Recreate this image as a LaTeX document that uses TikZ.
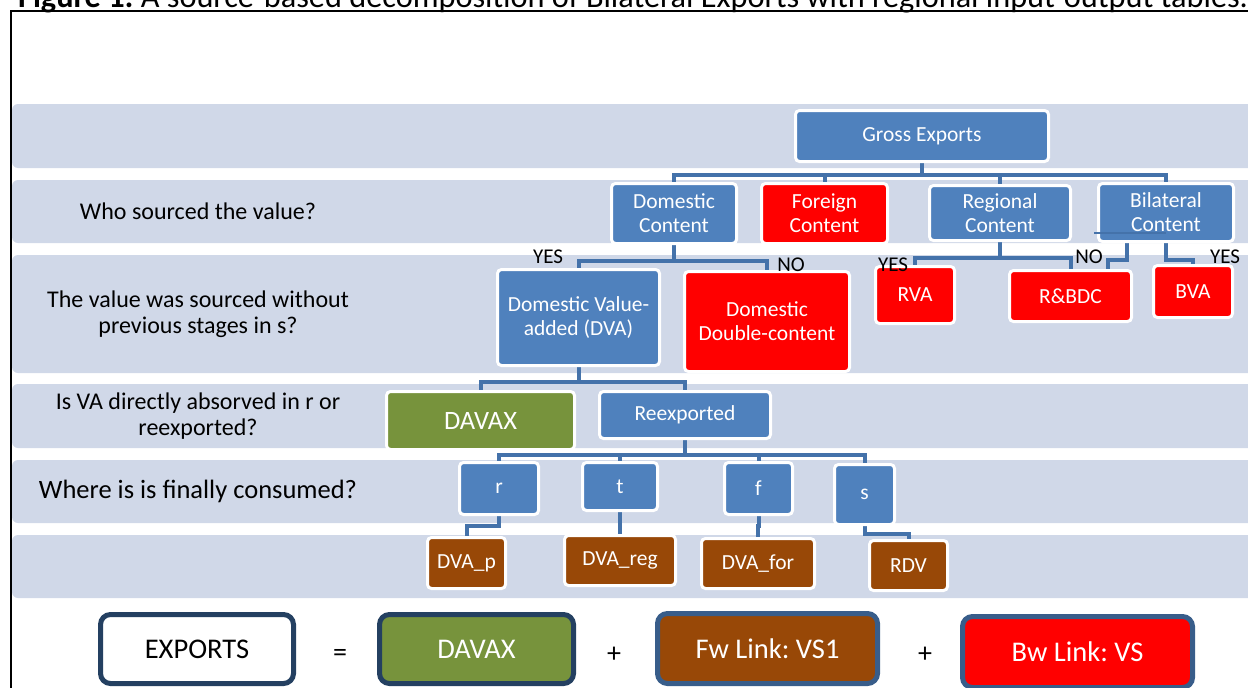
\documentclass[tikz,border=0pt]{standalone}
\usepackage{fontspec}
\setmainfont{Carlito}
\frenchspacing
\definecolor{dec_band}{RGB}{208,216,232}
\definecolor{dec_blue}{RGB}{79,129,189}
\definecolor{dec_link}{RGB}{68,114,170}
\definecolor{dec_red}{RGB}{255,0,0}
\definecolor{dec_green}{RGB}{119,147,60}
\definecolor{dec_brown}{RGB}{152,72,7}
\definecolor{dec_navy}{RGB}{36,64,97}
\definecolor{dec_steel}{RGB}{56,93,138}
\usetikzlibrary{calc}
\pgfdeclarelayer{bandlayer}
\pgfdeclarelayer{linklayer}
\pgfsetlayers{bandlayer,linklayer,main}

\begin{document}
\begin{tikzpicture}[x=1pt, y=-1pt,
        box/.style={draw=white, line width=3pt, rounded corners=4pt, align=center,
                    text=white, inner sep=0pt, font=\fontsize{21.5}{24}\selectfont},
        eqbox/.style={line width=5pt, rounded corners=10pt, inner sep=0pt,
                      font=\fontsize{28.5}{32}\selectfont},
        band/.style={fill=dec_band, rounded corners=6pt},
        link/.style={draw=dec_link, line width=4pt},
        question/.style={align=center, font=\fontsize{24}{26}\selectfont},
        answer/.style={inner sep=0pt, font=\fontsize{21}{22}\selectfont},
        sign/.style={font=\fontsize{28}{30}\selectfont}]
        \useasboundingbox (0,0) rectangle (1248,688);
        % Bands and frame
        \begin{pgfonlayer}{bandlayer}
          \foreach \ya/\yb in {104/168, 180/243, 255/373, 384/448, 460/523, 535/598}
            \fill[band] (12,\ya) rectangle (1256,\yb);
        \end{pgfonlayer}
        \draw[line width=1.5pt] (11,700) -- (11,11) -- (1260,11);
        \node[anchor=base west, inner sep=0pt, font=\fontsize{32.3}{35}\selectfont] (title)
          at (18,7) {\textbf{Figure 1:} A source-based decomposition of Bilateral Exports with regional input-output tables.};
        % Questions
        \node[question] (qwho) at (198,211) {Who sourced the value?};
        \node[question] (qprev) at (198,314.5) {The value was sourced without\\previous stages in s?};
        \node[question] (qabs) at (198,416.5) {Is VA directly absorved in r or\\reexported?};
        \node[question, font=\fontsize{26.5}{28}\selectfont] (qwhere) at (198,491)
          {Where is is finally consumed?};
        % Source level
        \node[box, fill=dec_blue, minimum width=253pt, minimum height=51pt] (gross)
          at (922,136) {Gross Exports};
        \node[box, fill=dec_blue, minimum width=125pt, minimum height=60pt] (dom)
          at (674,213.5) {Domestic\\Content};
        \node[box, fill=dec_red, minimum width=126pt, minimum height=60pt] (fore)
          at (824.5,213.5) {Foreign\\Content};
        \node[box, fill=dec_blue, minimum width=141pt, minimum height=55pt] (reg)
          at (1000,213) {Regional\\Content};
        \node[box, fill=dec_blue, minimum width=135pt, minimum height=58pt] (bil)
          at (1166,212.5) {Bilateral\\Content};
        % Stage level
        \node[box, fill=dec_blue, minimum width=162pt, minimum height=96pt] (dva)
          at (578.5,317.5) {Domestic Value-\\added (DVA)};
        \node[box, fill=dec_red, minimum width=165pt, minimum height=100pt] (ddc)
          at (767,321.5) {Domestic\\Double-content};
        \node[box, fill=dec_red, minimum width=79pt, minimum height=57pt] (rva)
          at (915,295) {RVA};
        \node[box, fill=dec_red, minimum width=122pt, minimum height=51pt] (rbdc)
          at (1070.5,296) {R\&BDC};
        \node[box, fill=dec_red, minimum width=79pt, minimum height=52pt] (bva)
          at (1193,291.5) {BVA};
        % Absorption level
        \node[box, fill=dec_green, minimum width=188pt, minimum height=58pt,
              font=\fontsize{26.5}{28}\selectfont] (davax) at (480.5,420.5) {DAVAX};
        \node[box, fill=dec_blue, minimum width=171pt, minimum height=47pt] (reex)
          at (685,415) {Reexported};
        % Consumption level
        \node[box, fill=dec_blue, minimum width=79pt, minimum height=52pt] (r)
          at (499,488.5) {r};
        \node[box, fill=dec_blue, minimum width=75pt, minimum height=48pt] (t)
          at (620,486.5) {t};
        \node[box, fill=dec_blue, minimum width=68pt, minimum height=52pt] (f)
          at (758.5,488.5) {f};
        \node[box, fill=dec_blue, minimum width=60pt, minimum height=60pt] (s)
          at (864.5,494.5) {s};
        \node[box, fill=dec_brown, minimum width=78pt, minimum height=51pt] (dvap)
          at (466.5,563) {DVA\_p};
        \node[box, fill=dec_brown, minimum width=111pt, minimum height=50pt] (dvareg)
          at (620,560.5) {DVA\_reg};
        \node[box, fill=dec_brown, minimum width=113pt, minimum height=50pt] (dvafor)
          at (758,563.5) {DVA\_for};
        \node[box, fill=dec_brown, minimum width=78pt, minimum height=50pt] (rdv)
          at (908.5,565.5) {RDV};
        % Answers
        \node[answer] (yesdva) at (548,257) {YES};
        \node[answer] (noddc) at (791,265) {NO};
        \node[answer] (yesrva) at (893,265) {YES};
        \node[answer] (norbdc) at (1089,257) {NO};
        \node[answer] (yesbva) at (1225,257) {YES};
        % Connectors
        \begin{pgfonlayer}{linklayer}
          \foreach \kid in {dom, fore, reg, bil}
            \draw[link] (gross.south) -- ++(0,12) -| (\kid.north);
          \foreach \kid in {dva, ddc}
            \draw[link] (dom.south) -- ++(0,16) -| (\kid.north);
          \foreach \kid in {rva, rbdc}
            \draw[link] (reg.south) -- ++(0,16) -| (\kid.north);
          \draw[link] ([xshift=-39pt]bil.south) -- ++(0,17) -| ([xshift=37.5pt]rbdc.north);
          \draw[link] (bil.south) -- ++(0,17) -| (bva.north);
          \foreach \kid in {davax, reex}
            \draw[link] (dva.south) -- ++(0,15) -| (\kid.north);
          \foreach \kid in {r, t, f, s}
            \draw[link] (reex.south) -- ++(0,15) -| (\kid.north);
          \draw[link] (r.south) -- ++(0,10) -| (dvap.north);
          \draw[link] (t.south) -- (dvareg.north);
          \draw[link] (f.south) -- ++(0,10) -| (dvafor.north);
          \draw[link] (s.south) -- ++(0,8) -| (rdv.north);
        \end{pgfonlayer}
        \coordinate (bilnick) at (1094,233);
        \draw[dec_link, line width=1.5pt] (bilnick) -- (bilnick -| bil.center);
        % Decomposition
        \node[eqbox, draw=dec_navy, fill=white, minimum width=193pt, minimum height=69pt]
          (exports) at (197,649) {EXPORTS};
        \node[sign] (eq) at (340,655) {=};
        \node[eqbox, draw=dec_navy, fill=dec_green, text=white, minimum width=194pt,
              minimum height=69pt] (davaxsum) at (476.5,649) {DAVAX};
        \node[sign] (plusa) at (614,655) {+};
        \node[eqbox, draw=dec_steel, fill=dec_brown, text=white, minimum width=220pt,
              minimum height=70pt] (fwlink) at (767.5,648.5) {Fw Link: VS1};
        \node[sign] (plusb) at (925,655) {+};
        \node[eqbox, draw=dec_steel, fill=dec_red, text=white, minimum width=230pt,
              minimum height=71pt] (bwlink) at (1077.5,652) {Bw Link: VS};
      \end{tikzpicture}
\end{document}
